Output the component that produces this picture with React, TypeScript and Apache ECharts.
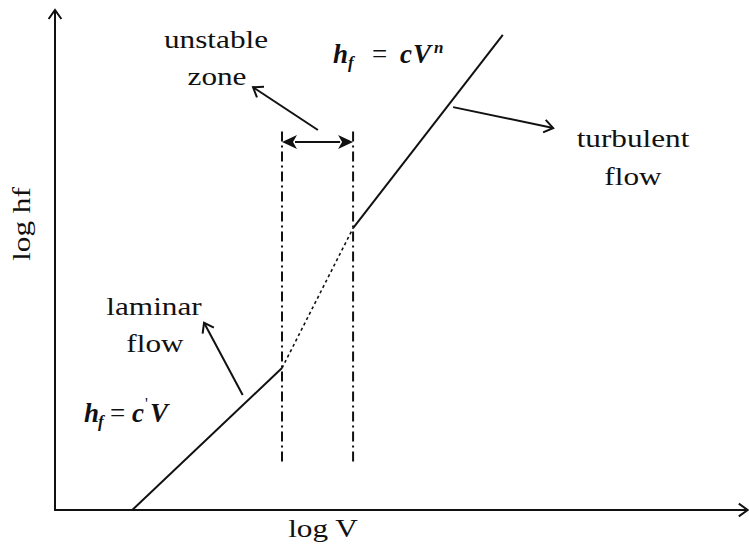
import React, { useEffect, useRef } from "react";
import * as echarts from "echarts";

// Head-loss regimes on log-log axes (schematic units)
const laminarX = [1.12, 3.29];
const laminarY = [0.0, 2.85];
const transitionX = [3.29, 4.32];
const transitionY = [2.85, 5.66];
const turbulentX = [4.32, 6.49];
const turbulentY = [5.66, 9.54];

// Boundaries of the unstable zone
const zoneBounds = [3.29, 4.32];
const zoneSpan = [0.9, 7.6];
const zoneArrowY = 7.39;

// Pointer arrows: [fromX, fromY, toX, toY]
const pointers = [
  [3.81, 7.63, 2.87, 8.49],
  [5.77, 8.09, 7.22, 7.67],
  [2.72, 2.31, 2.16, 3.76],
  [0, 0, 0, 10.04],
  [0, 0, 10.04, 0],
];

const INK = "#111";
const SERIF = '"Liberation Serif", "Times New Roman", serif';

const zip = (xs: number[], ys: number[]) => xs.map((x, i) => [x, ys[i]]);

function label(text: string, x: number, y: number, extra: any = {}) {
  return {
    type: "text",
    x,
    y,
    scaleX: extra.scaleX ?? 1.25,
    rotation: extra.rotation ?? 0,
    style: {
      text,
      fill: INK,
      fontFamily: SERIF,
      fontSize: extra.fontSize ?? 25,
      fontStyle: extra.fontStyle ?? "normal",
      fontWeight: extra.fontWeight ?? "normal",
      align: extra.align ?? "center",
      verticalAlign: "middle",
    },
  };
}

function mathPiece(text: string, x: number, y: number, size: number, italic = true, bold = true) {
  return label(text, x, y, {
    scaleX: 1,
    fontSize: size,
    fontStyle: italic ? "italic" : "normal",
    fontWeight: bold ? "bold" : "normal",
    align: "left",
  });
}

export default function App() {
  const ref = useRef<HTMLDivElement>(null);

  useEffect(() => {
    document.body.style.margin = "0";
    if (!ref.current) return;
    const chart = echarts.init(ref.current, undefined, { renderer: "svg" });

    const plainAxis = {
      type: "value",
      min: 0,
      max: 10,
      axisLine: { show: true, lineStyle: { color: INK, width: 2 } },
      axisTick: { show: false },
      axisLabel: { show: false },
      splitLine: { show: false },
    };

    chart.setOption({
      animation: false,
      backgroundColor: "#fff",
      grid: { left: 55, right: 4, top: 12, bottom: 37 },
      xAxis: { ...plainAxis },
      yAxis: { ...plainAxis },
      series: [
        {
          name: "laminar",
          type: "line",
          data: zip(laminarX, laminarY),
          symbol: "none",
          lineStyle: { color: INK, width: 2 },
        },
        {
          name: "transition",
          type: "line",
          data: zip(transitionX, transitionY),
          symbol: "none",
          lineStyle: { color: INK, width: 1.6, type: [3, 3] },
        },
        {
          name: "turbulent",
          type: "line",
          data: zip(turbulentX, turbulentY),
          symbol: "none",
          lineStyle: { color: INK, width: 2 },
        },
        ...zoneBounds.map((b) => ({
          name: "zone-bound",
          type: "line",
          data: [
            [b, zoneSpan[1]],
            [b, zoneSpan[0]],
          ],
          symbol: "none",
          lineStyle: { color: INK, width: 2, type: [10, 4, 2, 4] },
        })),
        {
          name: "pointers",
          type: "custom",
          clip: false,
          encode: { x: [0, 2], y: [1, 3] },
          data: pointers,
          renderItem: (_p: any, api: any) => {
            const a = api.coord([api.value(0), api.value(1)]);
            const b = api.coord([api.value(2), api.value(3)]);
            const ang = Math.atan2(b[1] - a[1], b[0] - a[0]);
            const L = 11;
            const w = 0.62;
            const p1 = [b[0] - L * Math.cos(ang - w), b[1] - L * Math.sin(ang - w)];
            const p2 = [b[0] - L * Math.cos(ang + w), b[1] - L * Math.sin(ang + w)];
            return {
              type: "group",
              children: [
                {
                  type: "line",
                  shape: { x1: a[0], y1: a[1], x2: b[0], y2: b[1] },
                  style: { stroke: INK, lineWidth: 2 },
                },
                {
                  type: "polyline",
                  shape: { points: [p1, b, p2] },
                  style: { stroke: INK, lineWidth: 2, fill: "none" },
                },
              ],
            };
          },
        },
        {
          name: "zone-width",
          type: "custom",
          clip: false,
          encode: { x: [0, 1], y: 2 },
          data: [[zoneBounds[0], zoneBounds[1], zoneArrowY]],
          renderItem: (_p: any, api: any) => {
            const a = api.coord([api.value(0), api.value(2)]);
            const b = api.coord([api.value(1), api.value(2)]);
            const len = 15;
            const half = 7;
            return {
              type: "group",
              children: [
                {
                  type: "line",
                  shape: { x1: a[0] + len - 2, y1: a[1], x2: b[0] - len + 2, y2: b[1] },
                  style: { stroke: INK, lineWidth: 2 },
                },
                {
                  type: "polygon",
                  shape: {
                    points: [
                      [a[0], a[1]],
                      [a[0] + len, a[1] - half],
                      [a[0] + len - 4, a[1]],
                      [a[0] + len, a[1] + half],
                    ],
                  },
                  style: { fill: INK },
                },
                {
                  type: "polygon",
                  shape: {
                    points: [
                      [b[0], b[1]],
                      [b[0] - len, b[1] - half],
                      [b[0] - len + 4, b[1]],
                      [b[0] - len, b[1] + half],
                    ],
                  },
                  style: { fill: INK },
                },
              ],
            };
          },
        },
      ],
      graphic: [
        label("unstable", 216, 40),
        label("zone", 217, 77),
        label("turbulent", 633, 139),
        label("flow", 633, 177),
        label("laminar", 154, 307),
        label("flow", 155, 344),
        label("log V", 323, 529),
        label("log hf", 22, 224, { rotation: Math.PI / 2 }),
        // h_f = cV^n
        mathPiece("h", 333, 54, 27),
        mathPiece("f", 348, 62, 17),
        mathPiece("=", 372, 54, 27, false, false),
        mathPiece("c", 400, 54, 27),
        mathPiece("V", 413, 54, 27),
        mathPiece("n", 434, 47, 17),
        // h_f = c'V
        mathPiece("h", 84, 413, 27),
        mathPiece("f", 98, 421, 17),
        mathPiece("=", 110, 413, 27, false, false),
        mathPiece("c", 132, 413, 27),
        mathPiece("'", 145, 403, 16, false, false),
        mathPiece("V", 150, 413, 27),
      ],
    });

    return () => chart.dispose();
  }, []);

  return <div ref={ref} style={{ width: 749, height: 547 }} />;
}
